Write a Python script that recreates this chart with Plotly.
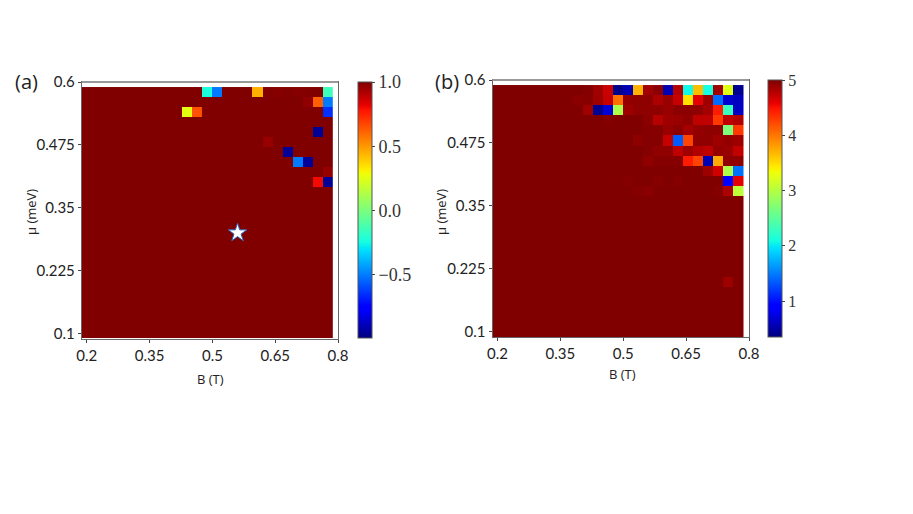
import numpy as np
import plotly.graph_objects as go

# grid of the scan, 25 x 25 cells
B_values = [0.2 + 0.024 * i for i in range(25)]
mu_values = [0.1 + 0.02 * i for i in range(25)]

x_ticks = [0.2, 0.35, 0.5, 0.65, 0.8]
x_labels = ["0.2", "0.35", "0.5", "0.65", "0.8"]
y_ticks = [0.1, 0.225, 0.35, 0.475, 0.6]
y_labels = ["0.1", "0.225", "0.35", "0.475", "0.6"]

star_B = [0.56]
star_mu = [0.3]

# panel a - nearly everything sits at 1.0, these are the cells that dont
a_cols = [12, 13, 17, 18, 19, 20, 21, 22, 24, 24, 23, 22, 24, 10, 11, 23, 18, 20, 21, 22, 24, 23, 24]
a_rows = [24, 24, 24, 24, 24, 24, 24, 24, 24, 23, 23, 23, 22, 22, 22, 20, 19, 18, 17, 17, 16, 15, 15]
a_vals = [-0.23, -0.5, 0.45, 0.995, 0.99, 0.995, 0.99, 0.995, -0.15, -0.5, 0.62, 0.97, -0.65,
          0.26, 0.65, -0.95, 0.96, -0.95, -0.5, -0.95, 0.96, 0.8, -0.95]

# panel b - same idea, background is 5. top rows start at column 9, the next ones at 14
b_r24 = [4.98, 4.87, 4.7, 0.4, 0.55, 3.7, 4.87, 4.95, 0.55, 4.78, 2.07, 3.65, 2.1, 4.87, 3.24, 0.42]
b_r23 = [4.97, 4.88, 4.72, 4.03, 4.92, 4.94, 4.94, 4.82, 4.9, 4.72, 3.47, 4.6, 4.88, 1.42, 0.67, 0.6]
b_r22 = [4.87, 0.42, 0.7, 2.95, 4.88, 4.94, 4.94, 4.94, 4.9, 4.95, 4.95, 4.93, 4.85, 4.45, 2.3, 0.62]

b_r21 = [5.0, 4.95, 4.78, 4.88, 4.9, 4.93, 4.75, 4.75, 4.3, 4.75, 4.8]
b_r20 = [5.0, 4.97, 4.97, 4.9, 4.95, 4.85, 4.92, 4.94, 4.94, 2.68, 4.3]
b_r19 = [4.95, 4.98, 4.97, 4.72, 1.35, 4.25, 4.93, 4.93, 4.88, 4.92, 4.88]
b_r18 = [5.0, 4.98, 4.93, 4.93, 4.75, 4.88, 4.8, 4.75, 4.92, 4.9, 4.73]
b_r17 = [5.0, 4.93, 4.97, 4.97, 4.97, 4.45, 4.25, 0.55, 3.75, 4.93, 4.93]

# odd cells further down
b_low_cols = [8, 11, 21, 22, 23, 24, 13, 16, 18, 23, 24, 14, 15, 22, 23, 24, 23]
b_low_rows = [23, 21, 16, 16, 16, 16, 15, 15, 15, 15, 15, 14, 14, 14, 14, 14, 5]
b_low_vals = [4.96, 4.98, 4.88, 4.68, 2.95, 1.45, 4.98, 4.97, 4.98, 0.86, 4.6, 4.98, 4.96, 4.98, 4.82, 3.05, 4.88]

# matplotlib style jet, plotly's own Jet is a different ramp
jet = [[0.0, "rgb(0,0,128)"], [0.11, "rgb(0,0,255)"], [0.125, "rgb(0,0,255)"], [0.34, "rgb(0,219,255)"],
       [0.35, "rgb(0,229,247)"], [0.375, "rgb(21,255,226)"], [0.64, "rgb(238,255,8)"], [0.65, "rgb(247,246,0)"],
       [0.66, "rgb(255,236,0)"], [0.89, "rgb(255,19,0)"], [0.91, "rgb(232,0,0)"], [1.0, "rgb(128,0,0)"]]

z_a = np.full((25, 25), 1.0)
for c, r, v in zip(a_cols, a_rows, a_vals):
    z_a[r, c] = v

z_b = np.full((25, 25), 5.0)
z_b[24, 9:] = b_r24
z_b[23, 9:] = b_r23
z_b[22, 9:] = b_r22
z_b[21, 14:] = b_r21
z_b[20, 14:] = b_r20
z_b[19, 14:] = b_r19
z_b[18, 14:] = b_r18
z_b[17, 14:] = b_r17
for c, r, v in zip(b_low_cols, b_low_rows, b_low_vals):
    z_b[r, c] = v

W = 913
H = 514
PAGE = 8  # the page has a body margin, everything sits this far in


def px(x):
    return (x - PAGE) / W


def py(y):
    return 1 - (y - PAGE) / H


label_font = dict(family="Lato", size=15, color="#222222")

fig = go.Figure()

fig.add_trace(go.Heatmap(x=B_values, y=mu_values, z=z_a, colorscale=jet, zmin=-0.99, zmax=1.0,
                         xaxis="x", yaxis="y",
                         colorbar=dict(x=px(357.5), xanchor="left", xpad=0, ypad=0, thickness=13.5,
                                       lenmode="pixels", len=256, yanchor="top", y=py(82),
                                       tickvals=[-0.5, 0, 0.5, 1.0], ticktext=["\u22120.5", "0.0", "0.5", "1.0"],
                                       ticks="outside", ticklen=3,
                                       tickfont=dict(family="Liberation Serif", size=18, color="#333333"),
                                       outlinecolor="#555555", outlinewidth=1)))

fig.add_trace(go.Heatmap(x=B_values, y=mu_values, z=z_b, colorscale=jet, zmin=0.35, zmax=5.0,
                         xaxis="x2", yaxis="y2",
                         colorbar=dict(x=px(767.5), xanchor="left", xpad=0, ypad=0, thickness=13.5,
                                       lenmode="pixels", len=257, yanchor="top", y=py(80),
                                       tickvals=[1, 2, 3, 4, 5], ticks="outside", ticklen=3,
                                       tickfont=dict(family="Liberation Serif", size=16, color="#333333"),
                                       outlinecolor="#555555", outlinewidth=1)))

# star marks the working point in (a)
fig.add_trace(go.Scatter(x=star_B, y=star_mu, mode="markers", xaxis="x", yaxis="y", showlegend=False,
                         marker=dict(symbol="star", size=14, color="white", line=dict(color="#2a62b8", width=1))))

axis_style = dict(showgrid=False, zeroline=False, showline=True, mirror=True, linecolor="#666666", linewidth=1,
                  ticks="outside", ticklen=3, tickcolor="#444444", tickfont=label_font)

fig.update_layout(
    width=W, height=H, margin=dict(l=0, r=0, t=0, b=0, autoexpand=False), paper_bgcolor="white", plot_bgcolor="white",
    showlegend=False,
    xaxis=dict(domain=[px(81.8), px(338)], range=[0.188, 0.8], tickvals=x_ticks, ticktext=x_labels, **axis_style),
    yaxis=dict(domain=[py(338.5), py(82)], range=[0.09, 0.6], tickvals=y_ticks, ticktext=y_labels, **axis_style),
    xaxis2=dict(domain=[px(492.5), px(749)], range=[0.188, 0.8], tickvals=x_ticks, ticktext=x_labels, anchor="y2", **axis_style),
    yaxis2=dict(domain=[py(337), py(80)], range=[0.09, 0.6], tickvals=y_ticks, ticktext=y_labels, anchor="x2", **axis_style),
)

# top edge of both frames is a heavier grey in the original
for x0, x1, y0 in [(81.8, 338, 82), (492.5, 749, 80)]:
    fig.add_shape(type="line", xref="paper", yref="paper", x0=px(x0), x1=px(x1), y0=py(y0), y1=py(y0),
                  line=dict(color="#999999", width=2))

# labels placed by hand
texts = [("(a)", 26, 82, 20, 0), ("(b)", 447, 82, 20, 0),
         ("B (T)", 210, 379, 13, 0), ("B (T)", 622, 374, 13, 0),
         ("\u03bc (meV)", 31, 212, 13, -90), ("\u03bc (meV)", 441, 212, 13, -90)]
for t, tx, ty, size, angle in texts:
    fig.add_annotation(text=t, x=px(tx), y=py(ty), xref="paper", yref="paper", showarrow=False,
                       xanchor="center", yanchor="middle", textangle=angle,
                       font=dict(family="Open Sans", size=size, color="#222222"))

fig.write_html("out.html")
